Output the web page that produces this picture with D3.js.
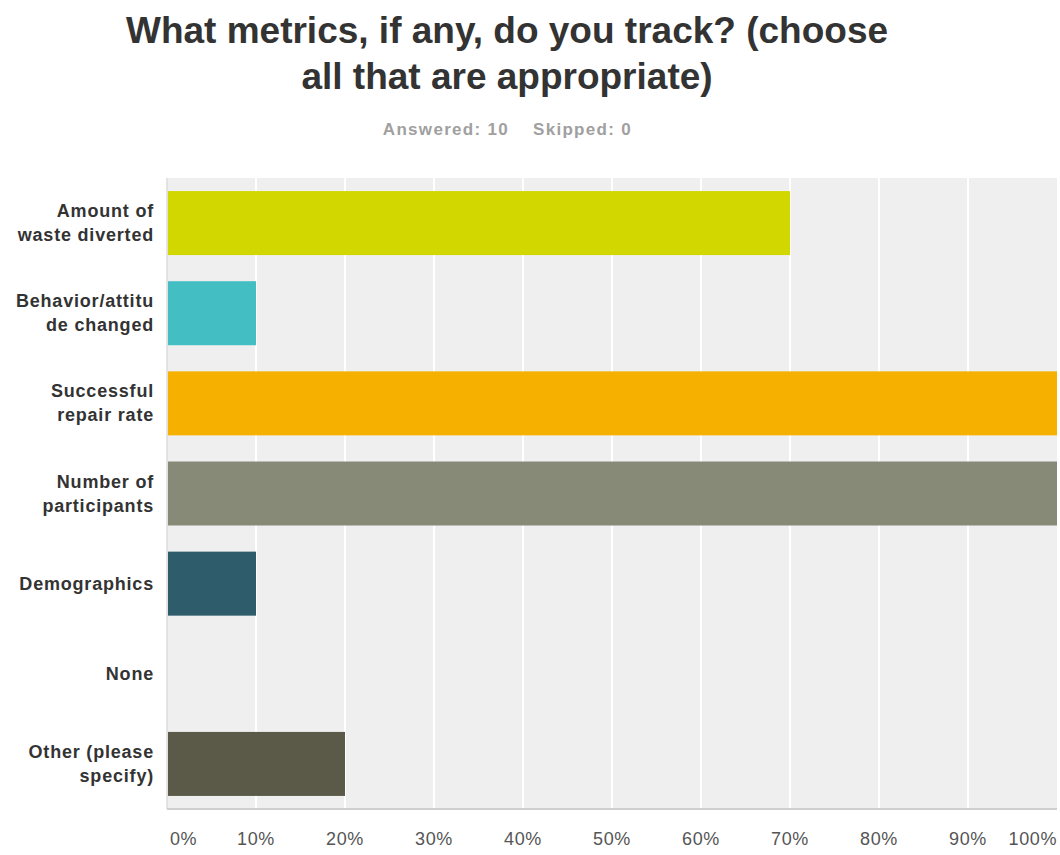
<!DOCTYPE html>
<html><head><meta charset="utf-8">
<script src="https://cdn.jsdelivr.net/npm/d3@7"></script>
<style>body{margin:0;background:#fff}svg{display:block}</style>
</head><body>
<svg id="c" width="1060" height="855"></svg>
<script>
const categories = [
  ["Amount of","waste diverted"],
  ["Behavior/attitu","de changed"],
  ["Successful","repair rate"],
  ["Number of","participants"],
  ["Demographics"],
  ["None"],
  ["Other (please","specify)"]
];
const values = [70, 10, 100, 100, 10, 0, 20];
const colors = ["#d3d700","#43bec3","#f5b000","#888a78","#2f5c6b","#888888","#5b5a48"];
const ticks = [0,10,20,30,40,50,60,70,80,90,100];
const titleLines = ["What metrics, if any, do you track? (choose","all that are appropriate)"];
const answered = "Answered: 10";
const skipped = "Skipped: 0";

const svg = d3.select("#c");
const font = "Helvetica, Arial, 'Liberation Sans', sans-serif";
const L = 167, R = 1057, T = 178, B = 809;
const x = d3.scaleLinear().domain([0,100]).range([L,R]);
const y = d3.scaleBand().domain(d3.range(categories.length)).range([T,B]).paddingInner(0.29).paddingOuter(0.145);

svg.selectAll("text.title").data(titleLines).join("text")
  .attr("x",507).attr("y",(d,i)=>43+i*46).attr("text-anchor","middle")
  .style("font-family",font).style("font-weight","bold").style("font-size","37px").attr("fill","#333")
  .text(d=>d);
svg.append("text").attr("x",509).attr("y",135).attr("text-anchor","end")
  .style("font-family",font).style("font-weight","bold").style("font-size","17px").style("letter-spacing","1.3px").attr("fill","#a0a0a0")
  .text(answered);
svg.append("text").attr("x",533).attr("y",135).attr("text-anchor","start")
  .style("font-family",font).style("font-weight","bold").style("font-size","17px").style("letter-spacing","1.3px").attr("fill","#a0a0a0")
  .text(skipped);

svg.append("rect").attr("x",L).attr("y",T).attr("width",R-L).attr("height",B-T).attr("fill","#efefef");
svg.selectAll("line.grid").data(ticks.slice(1,-1)).join("line")
  .attr("x1",d=>x(d)).attr("x2",d=>x(d)).attr("y1",T).attr("y2",B)
  .attr("stroke","#fff").attr("stroke-width",2);
svg.append("line").attr("x1",L).attr("x2",L).attr("y1",T).attr("y2",B).attr("stroke","#dcdcdc").attr("stroke-width",1.5);
svg.append("line").attr("x1",L).attr("x2",R).attr("y1",B).attr("y2",B).attr("stroke","#cfcfcf").attr("stroke-width",2);

svg.selectAll("rect.bar").data(values).join("rect")
  .attr("x",L+1).attr("y",(d,i)=>y(i)).attr("width",d=>Math.max(0,x(d)-L-1)).attr("height",y.bandwidth())
  .attr("fill",(d,i)=>colors[i]);

const lab = svg.selectAll("g.lab").data(categories).join("g");
lab.each(function(lines,i){
  const g = d3.select(this);
  const cy = y(i)+y.bandwidth()/2;
  const n = lines.length;
  lines.forEach((t,j)=>{
    g.append("text").attr("x",154).attr("y",cy + (j-(n-1)/2)*24 + 6).attr("text-anchor","end")
      .style("font-family",font).style("font-weight","bold").style("font-size","18px").style("letter-spacing","0.8px").attr("fill","#333")
      .text(t);
  });
});

svg.selectAll("text.tick").data(ticks).join("text")
  .attr("x",(d,i)=> i===0 ? L+3 : (i===ticks.length-1 ? R : x(d)))
  .attr("text-anchor",(d,i)=> i===0 ? "start" : (i===ticks.length-1 ? "end" : "middle"))
  .attr("y",845)
  .style("font-family",font).style("font-size","18px").style("letter-spacing","0.6px").attr("fill","#555")
  .text(d=>d+"%");
</script>
</body></html>
